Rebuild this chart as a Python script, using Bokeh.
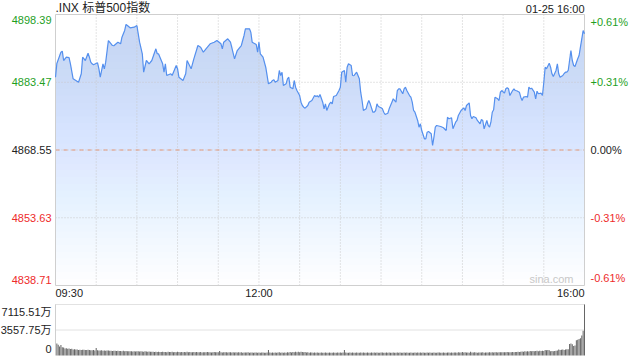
from bokeh.plotting import figure
from bokeh.models import Range1d, ColumnDataSource
from bokeh.core.properties import value
from bokeh.embed import file_html
from bokeh.resources import INLINE
import numpy as np

# ---------------- data ----------------
title_text = ".INX 标普500指数"
stamp_text = "01-25 16:00"
prev_close = 4868.55
price_ticks = [4838.71, 4853.63, 4868.55, 4883.47, 4898.39]
pct_labels = ["-0.61%", "-0.31%", "0.00%", "+0.31%", "+0.61%"]
time_labels = ["09:30", "12:00", "16:00"]
time_label_minutes = [0, 150, 390]
grid_minutes = [30, 60, 90, 120, 150, 180, 210, 240, 270, 300, 330, 360]
vol_ticks = [0, 3557.75, 7115.51]
vol_tick_labels = ["0", "3557.75万", "7115.51万"]

# minutes after 09:30
minutes = [0, 1, 4, 5, 6, 8, 10, 11, 13, 15, 17, 19, 20, 22, 24, 25, 26, 27, 28, 31,
           32, 33, 35, 36, 37, 39, 41, 42, 43, 46, 48, 49, 51, 52, 53, 55, 58, 60, 61, 62,
           64, 65, 67, 69, 71, 74, 75, 76, 79, 80, 81, 82, 85, 86, 89, 90, 91, 94, 96, 97,
           100, 102, 105, 107, 109, 112, 114, 117, 119, 122, 123, 124, 127, 129, 132, 134, 137, 139, 140, 143,
           144, 145, 148, 149, 150, 151, 153, 155, 157, 159, 160, 161, 162, 164, 165, 166, 167, 168, 170, 171,
           172, 173, 175, 176, 177, 178, 180, 181, 182, 183, 184, 186, 187, 189, 191, 192, 193, 194, 195, 197,
           198, 199, 200, 202, 203, 204, 205, 207, 209, 210, 211, 213, 214, 215, 216, 218, 219, 220, 221, 222,
           224, 225, 226, 227, 229, 230, 231, 232, 234, 235, 236, 237, 238, 240, 241, 242, 243, 245, 246, 247,
           248, 249, 251, 252, 253, 254, 256, 257, 258, 259, 261, 262, 263, 264, 265, 267, 268, 269, 270, 272,
           273, 274, 275, 277, 278, 279, 280, 281, 284, 286, 288, 289, 290, 292, 293, 295, 296, 297, 299, 301,
           302, 303, 305, 306, 307, 308, 310, 311, 313, 314, 315, 316, 318, 319, 320, 321, 322, 323, 324, 326,
           327, 328, 329, 331, 332, 333, 334, 335, 337, 338, 339, 340, 342, 343, 344, 345, 347, 348, 349, 350,
           351, 353, 354, 355, 356, 358, 359, 360, 361, 362, 364, 365, 366, 367, 369, 370, 371, 372, 374, 375,
           376, 377, 378, 380, 381, 382, 383, 385, 386, 387, 388, 389, 390]

prices = [4884.58, 4887.60, 4890.09, 4890.31, 4888.26, 4888.99, 4888.90, 4887.53, 4884.23, 4883.86,
          4883.48, 4885.33, 4888.99, 4888.26, 4889.87, 4888.99, 4887.89, 4887.53, 4887.31, 4887.75,
          4886.43, 4884.58, 4887.53, 4886.43, 4887.89, 4892.66, 4891.94, 4891.56, 4891.50, 4892.29,
          4891.94, 4893.39, 4894.87, 4896.19, 4895.97, 4895.46, 4895.59, 4895.97, 4894.14, 4892.29,
          4889.74, 4885.68, 4888.26, 4887.53, 4888.26, 4890.84, 4889.74, 4889.70, 4887.53, 4885.68,
          4887.53, 4884.96, 4885.33, 4884.96, 4887.16, 4886.43, 4884.58, 4883.86, 4885.33, 4888.26,
          4886.43, 4888.63, 4891.56, 4891.19, 4890.09, 4891.19, 4891.94, 4892.29, 4892.66, 4891.94,
          4890.84, 4892.29, 4893.04, 4892.29, 4888.63, 4890.46, 4891.56, 4893.77, 4895.24, 4895.24,
          4894.49, 4892.29, 4891.78, 4890.09, 4892.29, 4889.74, 4888.99, 4886.78, 4883.13, 4883.48,
          4883.86, 4884.01, 4883.48, 4883.86, 4886.06, 4884.96, 4885.68, 4882.75, 4883.13, 4884.23,
          4884.58, 4882.38, 4882.03, 4883.86, 4882.38, 4881.65, 4880.55, 4879.08, 4878.35, 4877.98,
          4877.76, 4878.35, 4879.08, 4879.45, 4880.55, 4880.33, 4880.50, 4880.18, 4880.77, 4879.08,
          4877.62, 4878.72, 4877.25, 4878.72, 4879.08, 4878.72, 4880.33, 4880.55, 4881.65, 4882.38,
          4885.68, 4886.06, 4883.48, 4886.78, 4887.53, 4887.16, 4884.96, 4884.90, 4885.33, 4885.68,
          4884.23, 4881.28, 4879.45, 4877.25, 4877.62, 4878.72, 4879.45, 4878.72, 4876.87, 4876.90,
          4877.25, 4878.72, 4878.13, 4877.84, 4877.62, 4876.87, 4876.37, 4876.65, 4877.62, 4878.35,
          4879.08, 4879.83, 4879.08, 4881.65, 4882.03, 4882.00, 4880.93, 4882.03, 4882.38, 4881.65,
          4880.55, 4880.18, 4879.08, 4877.25, 4876.87, 4875.05, 4873.57, 4874.32, 4872.84, 4871.02,
          4871.00, 4872.47, 4872.62, 4872.12, 4869.54, 4871.37, 4873.57, 4873.95, 4873.73, 4873.44,
          4872.84, 4875.77, 4875.42, 4875.64, 4873.22, 4874.67, 4875.05, 4876.15, 4877.25, 4877.84,
          4877.25, 4878.35, 4878.94, 4876.15, 4875.42, 4875.93, 4875.64, 4875.05, 4874.32, 4875.27,
          4875.05, 4873.22, 4875.05, 4873.95, 4873.57, 4874.67, 4876.87, 4877.40, 4880.18, 4879.83,
          4879.45, 4881.28, 4881.65, 4881.06, 4882.03, 4882.25, 4882.03, 4880.55, 4881.65, 4882.03,
          4881.65, 4881.60, 4881.28, 4880.18, 4879.45, 4880.18, 4880.33, 4880.18, 4882.38, 4882.03,
          4882.16, 4881.28, 4879.83, 4881.50, 4880.93, 4881.06, 4880.55, 4883.48, 4886.78, 4886.43,
          4887.67, 4886.78, 4885.33, 4884.74, 4886.06, 4887.53, 4885.33, 4884.58, 4884.96, 4885.40,
          4885.68, 4885.70, 4886.06, 4890.46, 4888.26, 4887.16, 4886.94, 4888.63, 4889.36, 4891.19,
          4893.04, 4894.87, 4894.14]

# per-minute volume (万), minutes 1..390
volumes = [
    1665, 1500, 1250, 1450, 1150, 1100, 980, 1000, 950, 990,
    900, 950, 850, 870, 820, 820, 780, 800, 760, 790,
    810, 770, 750, 790, 760, 740, 720, 760, 700, 1040,
    730, 700, 690, 720, 680, 700, 660, 690, 700, 650,
    680, 640, 660, 650, 630, 670, 620, 640, 610, 650,
    600, 620, 590, 610, 580, 600, 570, 610, 560, 590,
    580, 550, 600, 560, 540, 580, 550, 520, 570, 540,
    510, 530, 500, 540, 490, 520, 500, 480, 530, 490,
    500, 470, 520, 490, 480, 510, 470, 500, 460, 520,
    480, 470, 500, 450, 490, 470, 510, 460, 480, 450,
    470, 490, 440, 480, 460, 450, 490, 430, 470, 460,
    440, 480, 450, 470, 430, 460, 480, 440, 450, 470,
    620, 450, 430, 470, 440, 460, 420, 450, 470, 430,
    440, 420, 460, 410, 440, 430, 450, 400, 430, 420,
    410, 440, 400, 430, 420, 390, 430, 410, 400, 420,
    390, 410, 430, 400, 380, 420, 760, 410, 390, 420,
    400, 430, 380, 410, 440, 390, 420, 400, 430, 380,
    450, 410, 480, 430, 500, 460, 520, 440, 510, 470,
    530, 480, 450, 500, 420, 470, 400, 430, 410, 390,
    420, 380, 410, 400, 390, 420, 380, 400, 410, 390,
    380, 410, 400, 390, 420, 380, 400, 410, 390, 420,
    400, 430, 750, 410, 400, 380, 420, 390, 410, 400,
    380, 420, 390, 400, 410, 380, 420, 400, 390, 410,
    400, 380, 420, 390, 410, 400, 430, 390, 380, 410,
    420, 390, 400, 410, 380, 420, 390, 400, 410, 380,
    400, 420, 390, 410, 380, 400, 430, 390, 410, 400,
    380, 420, 400, 390, 410, 380, 420, 400, 430, 390,
    410, 400, 380, 420, 390, 410, 400, 380, 420, 400,
    390, 410, 430, 400, 380, 420, 400, 390, 410, 420,
    400, 430, 390, 410, 420, 400, 440, 410, 430, 480,
    420, 440, 410, 430, 400, 520, 430, 410, 440, 420,
    400, 430, 420, 410, 440, 400, 430, 420, 410, 440,
    430, 450, 420, 440, 460, 430, 450, 440, 470, 450,
    460, 440, 480, 450, 470, 460, 490, 470, 480, 500,
    520, 500, 540, 560, 520, 580, 550, 600, 570, 620,
    580, 640, 600, 620, 650, 600, 660, 630, 680, 640,
    760, 740, 780, 720, 610, 640, 600, 620, 650, 700,
    850, 760, 800, 820, 780, 850, 880, 860, 1600, 1660,
    1580, 1330, 1400, 2135, 2200, 2300, 2420, 2800, 3460, 7115.51,
]
vol_minutes = list(range(1, len(volumes) + 1))

# ---------------- layout (pixels) & styles ----------------
W, H = 640, 360
PL, PR, PT, PB = 55, 584, 14, 285      # price panel frame
VT, VB = 304, 355                      # volume panel top / bottom
FONT = value("Liberation Sans, Noto Sans CJK SC")
FS = value("11px")
GREEN = "#1f9f1f"
RED = "#ee2b2b"
DARK = "#222222"
LINE_BLUE = "#5590ee"
FILL_TOP = "#c6d8f6"
BORDER = "#cfcfcf"
GRID = "#c8c8c8"

t0, t1 = time_label_minutes[0], time_label_minutes[-1]
lo, hi = price_ticks[0], price_ticks[-1]
vmax = vol_ticks[-1]

xs = (PR - PL) / (t1 - t0)
ys = (PB - PT) / (hi - lo)
vs = (VB - VT) / vmax

p = figure(width=W, height=H,
           x_range=Range1d(t0 - PL / xs, t1 + (W - PR) / xs),
           y_range=Range1d(lo - (H - PB) / ys, hi + PT / ys),
           x_axis_type=None, y_axis_type=None, toolbar_location=None,
           output_backend="svg", min_border=0)
p.extra_y_ranges = {"vol": Range1d(-(H - VB) / vs, vmax + VT / vs)}
p.outline_line_color = None
p.background_fill_color = "white"
p.border_fill_color = "white"

# ---- price panel ----
# vertical gradient fill under the line (stacked translucent layers)
pr = np.array(prices)
N = 40
prev_o = 0.0
for k in range(N):
    level = lo + (hi - lo) * k / N
    o_k = (k + 1) / N
    a_k = 1 - (1 - o_k) / (1 - prev_o)
    prev_o = o_k
    p.varea(x=minutes, y1=np.full(len(pr), level), y2=np.maximum(pr, level),
            fill_color=FILL_TOP, fill_alpha=float(min(max(a_k, 0), 1)))

# grid
p.segment(x0=grid_minutes, y0=[lo] * len(grid_minutes), x1=grid_minutes,
          y1=[hi] * len(grid_minutes), line_color=GRID, line_dash="1 2", line_width=1)
mid_ticks = price_ticks[1:-1]
p.segment(x0=[t0] * len(mid_ticks), y0=mid_ticks, x1=[t1] * len(mid_ticks), y1=mid_ticks,
          line_color=GRID, line_dash="1 2", line_width=1)
p.segment(x0=[t0], y0=[prev_close], x1=[t1], y1=[prev_close],
          line_color="#e49a7c", line_dash="4 4", line_width=1)

# frame
p.quad(left=[t0], right=[t1], bottom=[lo], top=[hi], fill_color=None,
       line_color=BORDER, line_width=1)

p.line(minutes, prices, line_color=LINE_BLUE, line_width=1.2)

# price / percent labels
n = len(price_ticks)
colors = [GREEN if v > prev_close else (RED if v < prev_close else DARK) for v in price_ticks]
bases = ["top" if i == n - 1 else ("bottom" if i == 0 else "middle") for i in range(n)]
yoffs = [1 if b == "top" else (-2 if b == "bottom" else 0) for b in bases]
src_l = ColumnDataSource(dict(x=[t0] * n, y=price_ticks, t=["%.2f" % v for v in price_ticks],
                              c=colors, b=bases, yo=yoffs))
p.text(x="x", y="y", text="t", source=src_l, text_color="c", text_baseline="b",
       text_align="right", x_offset=-4, y_offset="yo", text_font=FONT, text_font_size=FS)
src_r = ColumnDataSource(dict(x=[t1] * n, y=price_ticks, t=pct_labels,
                              c=colors, b=bases, yo=yoffs))
p.text(x="x", y="y", text="t", source=src_r, text_color="c", text_baseline="b",
       text_align="left", x_offset=6, y_offset="yo", text_font=FONT, text_font_size=FS)

# time labels
src_t = ColumnDataSource(dict(x=time_label_minutes, y=[lo] * len(time_labels), t=time_labels,
                              a=["left", "center", "right"]))
p.text(x="x", y="y", text="t", source=src_t, text_align="a", text_baseline="top",
       y_offset=1, text_color=DARK, text_font=FONT, text_font_size=FS)

# header
p.text(x=[t0], y=[hi], text=[title_text], text_align="left", text_baseline="bottom",
       text_color=DARK, text_font=FONT, text_font_size=value("12px"))
p.text(x=[t1], y=[hi], text=[stamp_text], text_align="right", text_baseline="bottom",
       text_color=DARK, text_font=FONT, text_font_size=FS)
p.text(x=[t1], y=[lo], text=["sina.com"], text_align="right", text_baseline="bottom",
       x_offset=-11, y_offset=-1, text_color="#c8c8c8", text_font=FONT, text_font_size=FS)

# ---- volume panel ----
vg = vol_ticks[1:]
p.segment(x0=[t0] * len(vg), y0=vg, x1=[t1] * len(vg), y1=vg, y_range_name="vol",
          line_color="#c4c4c4", line_dash="1 1", line_width=1)
p.segment(x0=[t0], y0=[0], x1=[t0], y1=[vmax], y_range_name="vol",
          line_color=BORDER, line_width=1)
p.vbar(x=vol_minutes, top=volumes, width=0.75, y_range_name="vol",
       fill_color="#666666", line_color=None)

src_v = ColumnDataSource(dict(x=[t0] * 3, y=vol_ticks, t=vol_tick_labels,
                              b=["bottom", "middle", "top"], yo=[-3, 0, 1]))
p.text(x="x", y="y", text="t", source=src_v, text_baseline="b", text_align="right",
       x_offset=-4, y_offset="yo", y_range_name="vol", text_color=DARK,
       text_font=FONT, text_font_size=FS)

open("out.html", "w").write(file_html(p, INLINE))
